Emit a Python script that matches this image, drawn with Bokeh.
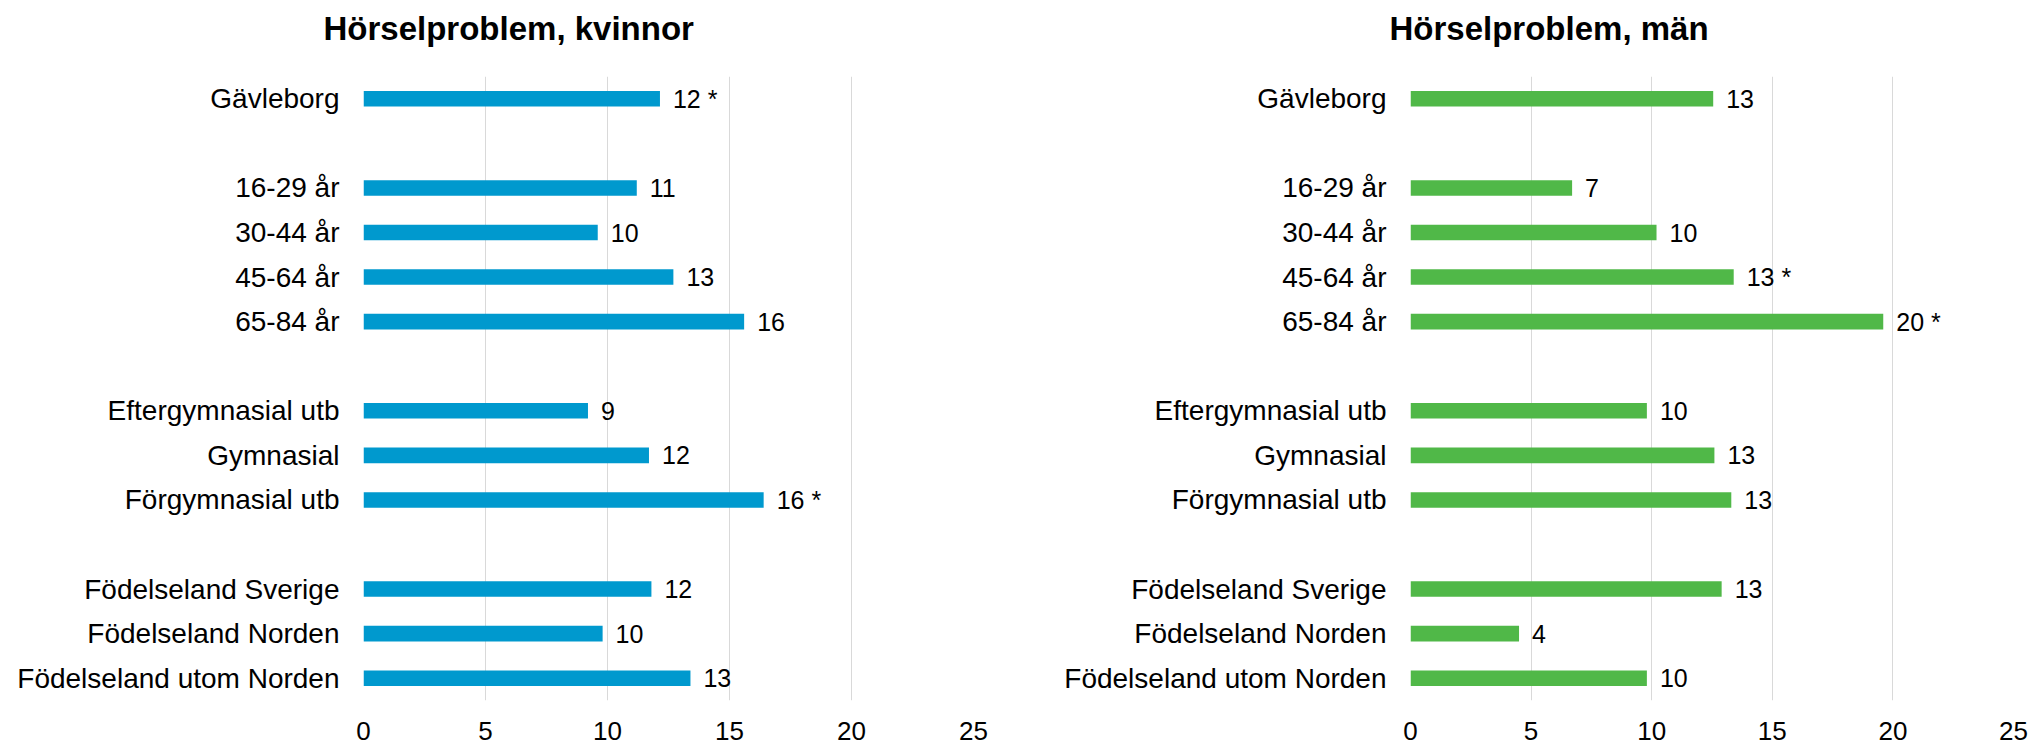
from bokeh.plotting import figure
from bokeh.models import FactorRange, Range1d, FixedTicker, ColumnDataSource, Title
from bokeh.layouts import row
from bokeh.embed import file_html
from bokeh.resources import INLINE
from bokeh.core.properties import value

# ---- data ----
slots = ["Gävleborg", " ", "16-29 år", "30-44 år", "45-64 år", "65-84 år", "  ",
         "Eftergymnasial utb", "Gymnasial", "Förgymnasial utb", "   ",
         "Födelseland Sverige", "Födelseland Norden", "Födelseland utom Norden"]

bar_categories = ["Gävleborg", "16-29 år", "30-44 år", "45-64 år", "65-84 år",
                  "Eftergymnasial utb", "Gymnasial", "Förgymnasial utb",
                  "Födelseland Sverige", "Födelseland Norden", "Födelseland utom Norden"]

women_values = [12.15, 11.2, 9.6, 12.7, 15.6, 9.2, 11.7, 16.4, 11.8, 9.8, 13.4]
women_labels = ["12 *", "11", "10", "13", "16", "9", "12", "16 *", "12", "10", "13"]

men_values = [12.55, 6.7, 10.2, 13.4, 19.6, 9.8, 12.6, 13.3, 12.9, 4.5, 9.8]
men_labels = ["13", "7", "10", "13 *", "20 *", "10", "13", "13", "13", "4", "10"]

x_ticks = [0, 5, 10, 15, 20, 25]

titles = ["Hörselproblem, kvinnor", "Hörselproblem, män"]
colors = ["#0099CE", "#50B848"]

FONT = "Liberation Sans"
HEIGHT = 747
TOP = 76
BOTTOM = 47


def make_panel(title, vals, labels, color, width, border_left, border_right, title_offset):
    p = figure(width=width, height=HEIGHT,
               y_range=FactorRange(*reversed(slots), range_padding=0),
               x_range=Range1d(0, 25),
               output_backend="svg", toolbar_location=None,
               min_border_left=border_left, min_border_right=border_right,
               min_border_top=TOP, min_border_bottom=BOTTOM)
    src = ColumnDataSource(dict(cat=bar_categories, val=vals, lab=labels))
    p.hbar(y="cat", left=0, right="val", height=0.35, source=src,
           fill_color=color, line_color=None)
    p.text(x="val", y="cat", text="lab", source=src, x_offset=13,
           text_align="left", text_baseline="middle",
           text_font=value(FONT), text_font_size="25px", text_color="#000000")

    p.outline_line_color = None
    p.background_fill_color = "white"
    p.border_fill_color = "white"

    p.ygrid.grid_line_color = None
    p.xgrid.ticker = FixedTicker(ticks=x_ticks)
    p.xgrid.grid_line_color = "#D9D9D9"
    p.xgrid.grid_line_width = 1

    p.xaxis.ticker = FixedTicker(ticks=x_ticks)
    for ax in (p.xaxis, p.yaxis):
        ax.axis_line_color = None
        ax.major_tick_line_color = None
        ax.minor_tick_line_color = None
        ax.major_tick_out = 0
        ax.major_tick_in = 0
        ax.major_label_text_font = FONT
        ax.major_label_text_color = "#000000"
    p.xaxis.major_label_text_font_size = "26px"
    p.xaxis.major_label_standoff = 21
    p.yaxis.major_label_text_font_size = "28px"
    p.yaxis.major_label_standoff = 24

    # spacer panel between frame and title
    p.add_layout(Title(text=" ", text_font_size="16.5px", standoff=0), "above")
    p.add_layout(Title(text=title, align="left", offset=title_offset,
                       text_font=FONT, text_font_size="33px",
                       text_font_style="bold", text_color="#000000",
                       vertical_align="top", standoff=16), "above")
    return p


p1 = make_panel(titles[0], women_values, women_labels, colors[0], 1010, 363, 37, -40)
p2 = make_panel(titles[1], men_values, men_labels, colors[1], 1021, 400, 18, -21)

layout = row(p1, p2)
open("out.html", "w").write(file_html(layout, INLINE))
